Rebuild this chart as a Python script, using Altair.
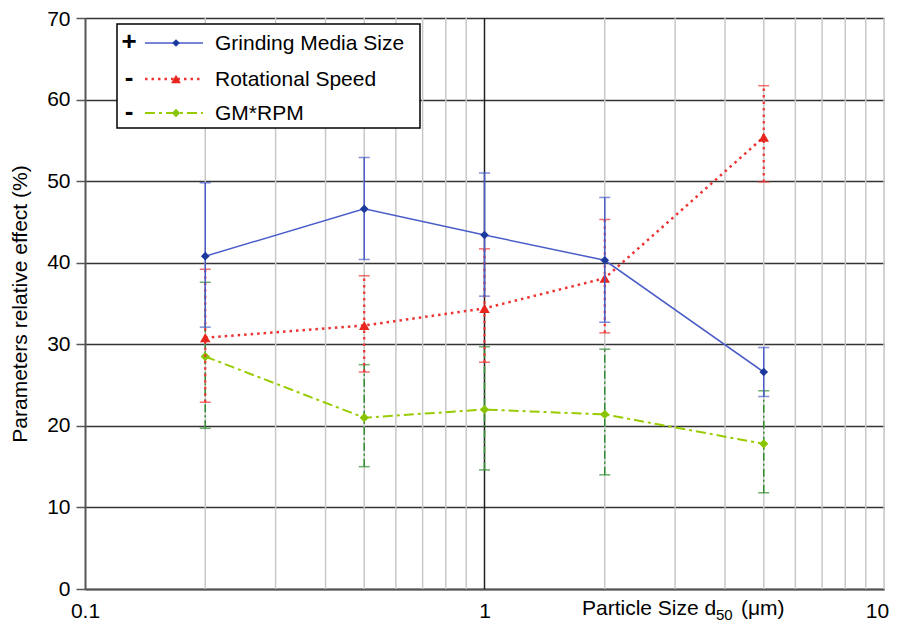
import altair as alt
import pandas as pd

# ---- data ----
sizes = [0.2, 0.5, 1, 2, 5]

gm_mean = [40.8, 46.6, 43.4, 40.3, 26.6]
gm_hi = [49.8, 52.9, 51.0, 48.0, 29.6]
gm_lo = [32.1, 40.4, 35.9, 32.7, 23.6]

rs_mean = [30.8, 32.3, 34.4, 38.1, 55.4]
rs_hi = [39.2, 38.4, 41.7, 45.3, 61.7]
rs_lo = [22.9, 26.6, 27.8, 31.4, 49.9]

gr_mean = [28.5, 21.0, 22.0, 21.4, 17.8]
gr_hi = [37.6, 27.5, 29.7, 29.4, 24.3]
gr_lo = [19.7, 15.0, 14.6, 14.0, 11.8]

series_names = ["Grinding Media Size", "Rotational Speed", "GM*RPM"]
legend_signs = ["+", "-", "-"]

x_ticks = [0.1, 1, 10]
y_ticks = [0, 10, 20, 30, 40, 50, 60, 70]
minor_x = [0.2, 0.3, 0.4, 0.5, 0.6, 0.7, 0.8, 0.9, 2, 3, 4, 5, 6, 7, 8, 9, 10]
major_x = [1]

FONT = "Liberation Sans"
Y_TITLE = "Parameters relative effect (%)"

xscale = alt.Scale(type="log", domain=[0.1, 10])
yscale = alt.Scale(domain=[0, 70], nice=False)

AX_X = alt.Axis(values=x_ticks, format="~g", grid=False, ticks=False,
                labelFont=FONT, labelFontSize=21, labelColor="black",
                labelPadding=11, domainColor="#555555", domainWidth=2,
                labelFlush=False,
                labelOffset={"condition": {"test": "datum.value == 10", "value": -7}, "value": 0})
AX_Y = alt.Axis(values=y_ticks, grid=True, gridColor="#333333", gridWidth=1.5,
                tickSize=9, tickColor="#555555", tickWidth=1.5,
                domainColor="#555555", domainWidth=2,
                labelFont=FONT, labelFontSize=21, labelColor="black", labelPadding=6,
                labelOffset={"condition": {"test": "datum.value == 70", "value": 1}, "value": 0},
                titleFont=FONT, titleFontSize=21, titleFontWeight="normal",
                titleColor="black", titlePadding=16)


def XQ(field):
    return alt.X(f"{field}:Q", scale=xscale, axis=AX_X, title=None)


def YQ(field):
    return alt.Y(f"{field}:Q", scale=yscale, axis=AX_Y, title=Y_TITLE)


def frame(mean, hi, lo):
    return pd.DataFrame({"x": sizes, "y": mean, "hi": hi, "lo": lo})


gm_df = frame(gm_mean, gm_hi, gm_lo)
rs_df = frame(rs_mean, rs_hi, rs_lo)
gr_df = frame(gr_mean, gr_hi, gr_lo)

one = pd.DataFrame({"a": [0]})

# grid
minor = alt.Chart(pd.DataFrame({"x": minor_x})).mark_rule(color="#c8c8c8", strokeWidth=1.5).encode(
    x=XQ("x")
)
major = alt.Chart(pd.DataFrame({"x": major_x})).mark_rule(color="#222222", strokeWidth=1.5).encode(
    x=XQ("x")
)


def series(df, line_color, line_dash, line_width, err_color, err_dash, err_width,
           shape, marker_color, msize):
    line_kw = dict(color=line_color, strokeWidth=line_width)
    if line_dash:
        line_kw["strokeDash"] = line_dash
    err_kw = dict(color=err_color, strokeWidth=err_width)
    if err_dash:
        err_kw["strokeDash"] = err_dash
    base = alt.Chart(df)
    line = base.mark_line(**line_kw).encode(x=XQ("x"), y=YQ("y"))
    err = base.mark_rule(**err_kw).encode(x=XQ("x"), y=YQ("lo"), y2="hi:Q")
    cap_hi = base.mark_tick(orient="horizontal", size=11, thickness=1.5, color=err_color).encode(
        x=XQ("x"), y=YQ("hi"))
    cap_lo = base.mark_tick(orient="horizontal", size=11, thickness=1.5, color=err_color).encode(
        x=XQ("x"), y=YQ("lo"))
    pts = base.mark_point(shape=shape, filled=True, opacity=1, color=marker_color, size=msize).encode(
        x=XQ("x"), y=YQ("y"))
    return [err, cap_hi, cap_lo, line, pts]


gr_layers = series(gr_df, "#99cc00", [10, 4, 3, 4], 2, "#2e8b2e", [8, 3, 2, 3], 1.5,
                   "diamond", "#88c400", 85)
rs_layers = series(rs_df, "#ee3333", [2.5, 4], 2.5, "#ee3333", [2.5, 4], 2.2,
                   "triangle-up", "#e8261e", 110)
gm_layers = series(gm_df, "#4a5cc8", None, 1.5, "#4a5cc8", None, 1.5,
                   "diamond", "#1c3a9e", 75)

# legend (decoration)
leg = alt.Chart(one)
legend_layers = [
    leg.mark_rect(fill="white", stroke="black", strokeWidth=1.5).encode(
        x=alt.value(32), x2=alt.value(335), y=alt.value(6), y2=alt.value(110)),
]
rows = [25, 61, 95]
styles = [
    dict(color="#4a5cc8", strokeWidth=1.5),
    dict(color="#ee3333", strokeWidth=2.5, strokeDash=[2.5, 4]),
    dict(color="#99cc00", strokeWidth=2, strokeDash=[10, 4, 3, 4]),
]
markers = [("diamond", "#1c3a9e", 60), ("triangle-up", "#e8261e", 95), ("diamond", "#88c400", 70)]
for i, name in enumerate(series_names):
    yy = rows[i]
    legend_layers.append(leg.mark_text(font=FONT, fontSize=26, fontWeight="bold", color="black").encode(
        x=alt.value(44), y=alt.value(yy - 1), text=alt.value(legend_signs[i])))
    legend_layers.append(leg.mark_rule(**styles[i]).encode(
        x=alt.value(60), x2=alt.value(118), y=alt.value(yy)))
    shp, col, sz = markers[i]
    legend_layers.append(leg.mark_point(shape=shp, filled=True, opacity=1, color=col, size=sz).encode(
        x=alt.value(91), y=alt.value(yy)))
    legend_layers.append(leg.mark_text(font=FONT, fontSize=21, align="left", baseline="middle",
                                       color="black").encode(
        x=alt.value(130), y=alt.value(yy + 1), text=alt.value(name)))

# x axis title with subscript
xtitle = [
    leg.mark_text(font=FONT, fontSize=21, align="left", baseline="alphabetic", color="black").encode(
        x=alt.value(497), y=alt.value(597), text=alt.value("Particle Size d")),
    leg.mark_text(font=FONT, fontSize=15, align="left", baseline="alphabetic", color="black").encode(
        x=alt.value(631), y=alt.value(602), text=alt.value("50")),
    leg.mark_text(font=FONT, fontSize=21, align="left", baseline="alphabetic", color="black").encode(
        x=alt.value(656), y=alt.value(597), text=alt.value("(\u03bcm)")),
]

chart = alt.layer(
    minor, major, *gr_layers, *rs_layers, *gm_layers, *legend_layers, *xtitle
).properties(
    width=799, height=571,
    autosize=alt.AutoSizeParams(type="none"),
    padding={"left": 77, "top": 10, "right": 6, "bottom": 33},
).configure_view(stroke=None).configure(background="white")

chart.save("out.html", embed_options={"renderer": "svg", "actions": False})
